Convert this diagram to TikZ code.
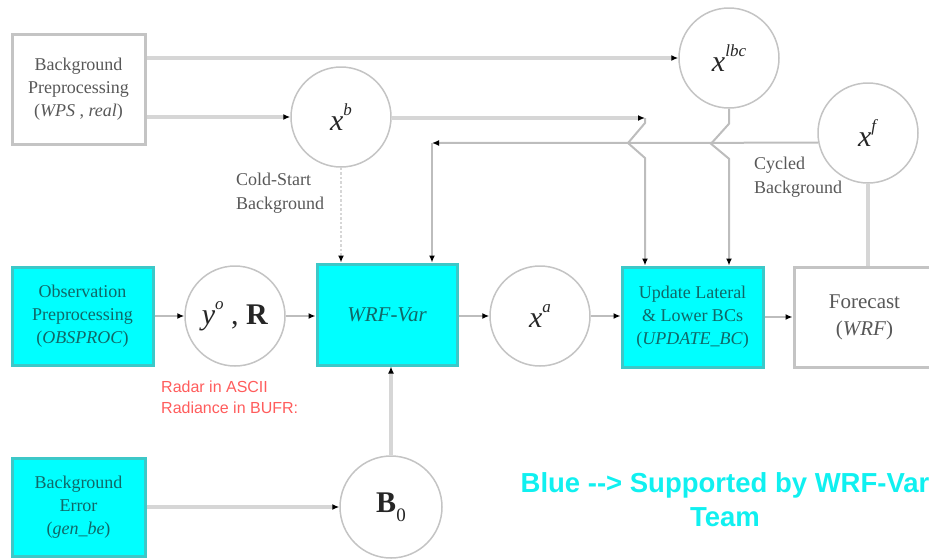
\documentclass[tikz,border=0pt]{standalone}
\usepackage{fontspec}
\setmainfont{Liberation Serif}
\newfontfamily\arialf{Liberation Sans}
\usetikzlibrary{arrows.meta}
\definecolor{boxgray}{HTML}{C4C4C4}
\definecolor{lightline}{HTML}{D6D6D6}
\definecolor{thinline}{HTML}{BDBDBD}
\definecolor{cyanfill}{HTML}{00FFFF}
\definecolor{cyanedge}{HTML}{3CC8C8}
\definecolor{tealtext}{HTML}{106868}
\definecolor{graytext}{HTML}{585858}
\definecolor{redtext}{HTML}{FF5C5C}
\definecolor{bluetext}{HTML}{10F0F0}
\newcommand{\vecx}[1]{\textit{x}\raisebox{0.5em}{\fontsize{17}{17}\selectfont\textit{#1}}}
\begin{document}
\begin{tikzpicture}[x=1pt,y=-1pt,
  whitebox/.style={draw=boxgray, line width=3pt, fill=white, inner sep=0pt, align=center, text=graytext, font=\fontsize{18}{23}\selectfont},
  cyanbox/.style={draw=cyanedge, line width=3pt, fill=cyanfill, inner sep=0pt, align=center, text=tealtext, font=\fontsize{18}{23}\selectfont},
  statecirc/.style={circle, draw=boxgray, line width=1.5pt, minimum size=100pt, inner sep=0pt, fill=white, text=black!85, font=\fontsize{30}{30}\selectfont},
  tip/.style={-{Latex[length=7pt,width=6pt,color=black]}},
  thinflow/.style={draw=thinline, line width=2pt, tip},
  thickflow/.style={draw=lightline, line width=4pt, tip},
  dotflow/.style={draw=lightline, line width=2.5pt, dotted, tip},
  plainthick/.style={draw=lightline, line width=3.5pt},
  lbl/.style={inner sep=0pt, anchor=north west, align=left, text=graytext, font=\fontsize{18}{24}\selectfont}
]
\useasboundingbox (0,0) rectangle (929,558);
\clip (0,0) rectangle (929,558);

% boxes
\node[whitebox, minimum width=133pt, minimum height=110pt] (bgprep) at (78.5,89) {Background\\Preprocessing\\(\textit{WPS} , \textit{real})};
\node[cyanbox, minimum width=141pt, minimum height=98pt] (obs) at (82.5,316) {Observation\\Preprocessing\\(\textit{OBSPROC})};
\node[cyanbox, minimum width=133pt, minimum height=98pt] (bgerr) at (78.5,507) {Background\\Error\\(\textit{gen\_be})};
\node[cyanbox, minimum width=140pt, minimum height=101pt, font=\fontsize{21}{25}\selectfont\itshape] (wrfvar) at (387,314.5) {WRF-Var};
\node[cyanbox, minimum width=141pt, minimum height=100pt] (upd) at (692.5,317) {Update Lateral\\\& Lower BCs\\(\textit{UPDATE\_BC})};
\node[whitebox, minimum width=141pt, minimum height=100pt, font=\fontsize{21}{27}\selectfont] (fcst) at (864.5,317) {Forecast\\(\textit{WRF})};

% state circles
\node[statecirc] (xb) at (341,117) {\vecx{b}};
\node[statecirc] (xlbc) at (729,58) {\vecx{lbc}};
\node[statecirc] (xf) at (868,133) {\vecx{f}};
\node[statecirc] (yo) at (235,316) {\textit{y}\raisebox{0.5em}{\fontsize{17}{17}\selectfont\textit{o}} , \textbf{R}};
\node[statecirc] (xa) at (540,316) {\vecx{a}};
\node[statecirc, minimum size=102pt] (b0) at (391,507) {\textbf{B}\raisebox{-0.3em}{\fontsize{19}{19}\selectfont 0}};

% labels
\node[lbl] (coldlbl) at (236,173) {Cold-Start\\Background};
\node[lbl] (cyclbl) at (754,157) {Cycled\\Background};
\node[inner sep=0pt, anchor=north west, align=left, text=redtext, font=\arialf\fontsize{16}{21}\selectfont] (radar) at (161,381) {Radar in ASCII\\Radiance in BUFR:};
\node[inner sep=0pt, align=center, text=bluetext, font=\arialf\bfseries\fontsize{27.5}{34}\selectfont] (legend) at (725,500) {Blue --> Supported by WRF-Var\\Team};

% coordinates for hops and corners
\coordinate (hopA) at (645,118);
\coordinate (corner) at (432,143);

% connectors
\draw[thickflow] (bgprep.east |- xlbc.west) -- (xlbc.west);
\draw[thickflow] (bgprep.east |- xb.west) -- (xb.west);
\draw[thickflow] (xb.east |- hopA) -- (hopA);
\draw[thinflow] (hopA) -- ++(0,5) -- ++(-17,20) -- ++(17,15) -- (hopA |- upd.north);
\draw[thinflow] (xlbc.south) -- ++(0,15) -- ++(-18,20) -- ++(18,15) -- (xlbc.south |- upd.north);
\draw[thinflow] (xf.191.5) -- (corner);
\draw[thinflow] (corner) -- (corner |- wrfvar.north);
\draw[dotflow] (xb.south) -- (xb.south |- wrfvar.north);
\draw[plainthick] (xf.south) -- (xf.south |- fcst.north);

\draw[thinflow] (obs.east |- yo.west) -- (yo.west);
\draw[thinflow] (yo.east) -- (yo.east -| wrfvar.west);
\draw[thinflow] (wrfvar.east |- xa.west) -- (xa.west);
\draw[thinflow] (xa.east) -- (xa.east -| upd.west);
\draw[thinflow] (upd.east) -- (upd.east -| fcst.west);

\draw[thickflow] (bgerr.east |- b0.west) -- (b0.west);
\draw[thickflow] (b0.north) -- (b0.north |- wrfvar.south);
\end{tikzpicture}
\end{document}
